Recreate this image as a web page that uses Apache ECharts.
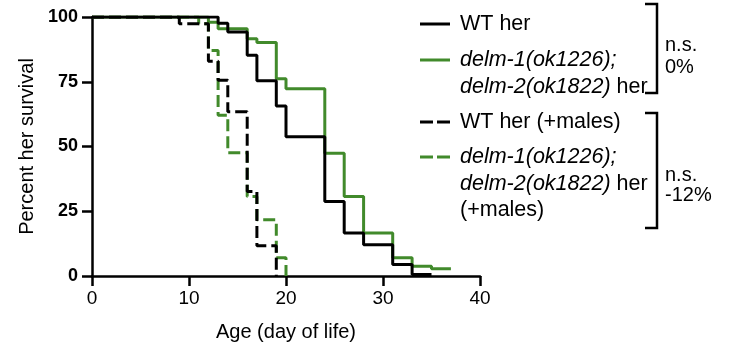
<!DOCTYPE html>
<html>
<head>
<meta charset="utf-8">
<script src="https://cdn.jsdelivr.net/npm/echarts@6/dist/echarts.min.js"></script>
<style>
  html, body { margin: 0; padding: 0; background: #fff; }
  #chart { width: 730px; height: 348px; }
</style>
</head>
<body>
<div id="chart"></div>
<script>
// survival data (day, percent alive from that day on)
const wtDays = [0, 13, 14, 16, 17, 19, 20, 24, 26, 28, 31, 33, 35]
const wtSurv = [100, 97.6, 94.2, 85.2, 75.4, 65.6, 53.8, 28.8, 16.6, 12.1, 4.4, 0.6, 0.6]

const delmDays = [0, 12, 13, 16, 17, 19, 20, 24, 26, 28, 31, 33, 35, 37]
const delmSurv = [100, 98, 95.5, 91.6, 90.2, 76.2, 72.3, 47.4, 30.7, 16.6, 7, 3.8, 2.8, 2.8]

const wtMalesDays = [0, 9, 12, 13, 14, 16, 17, 19]
const wtMalesSurv = [100, 97.4, 82.9, 75.6, 63.4, 32.6, 11.7, 0]

const delmMalesDays = [0, 11, 12, 13, 14, 16, 17, 19, 20]
const delmMalesSurv = [100, 97.4, 87.1, 62.1, 47.6, 30.7, 21.7, 7, 0]

const xTicks = [0, 10, 20, 30, 40]
const yTicks = [0, 25, 50, 75, 100]

const GREEN = '#418a2b'
const FONT = "'Liberation Sans', Arial, sans-serif"

const pairs = (xs, ys) => xs.map((x, i) => [x, ys[i]])

const chart = echarts.init(document.getElementById('chart'))

// legend + brackets drawn by hand
const legendIcon = (y, color, dashed) => ({
  type: 'line',
  shape: { x1: 420, y1: y, x2: 450, y2: y },
  style: { stroke: color, lineWidth: 3, lineDash: dashed ? [13, 4] : null }
})
const label = (y, text) => ({
  type: 'text',
  x: 460,
  y: y,
  style: {
    text: text,
    font: '21.5px ' + FONT,
    fill: '#000',
    verticalAlign: 'middle',
    rich: { i: { fontStyle: 'italic', fontSize: 21.5, fontFamily: FONT } }
  }
})
const bracket = (y1, y2) => ({
  type: 'polyline',
  shape: { points: [[645, y1], [657, y1], [657, y2], [645, y2]] },
  style: { stroke: '#000', lineWidth: 2.5, fill: null }
})
const note = (y, text) => ({
  type: 'text',
  x: 665,
  y: y,
  style: { text: text, font: '20px ' + FONT, fill: '#000', verticalAlign: 'middle' }
})

chart.setOption({
  animation: false,
  grid: { left: 92, right: 250, top: 17, bottom: 72 },
  xAxis: {
    type: 'value',
    min: 0,
    max: 40,
    interval: 10,
    name: 'Age (day of life)',
    nameLocation: 'middle',
    nameGap: 46,
    nameTextStyle: { color: '#000', fontSize: 20, fontFamily: FONT },
    axisLine: { lineStyle: { color: '#000', width: 2.5 } },
    axisTick: { length: 10, lineStyle: { color: '#000', width: 2.5 } },
    axisLabel: {
      color: '#000', fontSize: 19, fontFamily: FONT, margin: 13,
      formatter: v => xTicks.includes(v) ? String(v) : ''
    },
    splitLine: { show: false }
  },
  yAxis: {
    type: 'value',
    min: 0,
    max: 100,
    interval: 25,
    name: 'Percent her survival',
    nameLocation: 'middle',
    nameGap: 55,
    nameTextStyle: { color: '#000', fontSize: 20, fontFamily: FONT },
    axisLine: { show: true, lineStyle: { color: '#000', width: 2.5 } },
    axisTick: { show: true, length: 10, lineStyle: { color: '#000', width: 2.5 } },
    axisLabel: {
      color: '#000', fontSize: 18, fontWeight: 'bold', fontFamily: FONT, margin: 14,
      formatter: v => yTicks.includes(v) ? String(v) : ''
    },
    splitLine: { show: false }
  },
  series: [
    {
      name: 'delm-1(ok1226); delm-2(ok1822) her',
      type: 'line', step: 'end', showSymbol: false, symbol: 'none',
      data: pairs(delmDays, delmSurv),
      lineStyle: { color: GREEN, width: 3 }
    },
    {
      name: 'delm-1(ok1226); delm-2(ok1822) her (+males)',
      type: 'line', step: 'end', showSymbol: false, symbol: 'none',
      data: pairs(delmMalesDays, delmMalesSurv),
      lineStyle: { color: GREEN, width: 3, type: [12, 5] }
    },
    {
      name: 'WT her (+males)',
      type: 'line', step: 'end', showSymbol: false, symbol: 'none',
      data: pairs(wtMalesDays, wtMalesSurv),
      lineStyle: { color: '#000', width: 3, type: [12, 5] }
    },
    {
      name: 'WT her',
      type: 'line', step: 'end', showSymbol: false, symbol: 'none',
      data: pairs(wtDays, wtSurv),
      lineStyle: { color: '#000', width: 3 }
    }
  ],
  graphic: [
    legendIcon(24, '#000', false),
    label(24, 'WT her'),
    legendIcon(60, GREEN, false),
    label(60, '{i|delm-1(ok1226);}'),
    label(87, '{i|delm-2(ok1822)} her'),
    legendIcon(122, '#000', true),
    label(122, 'WT her (+males)'),
    legendIcon(157, GREEN, true),
    label(157, '{i|delm-1(ok1226);}'),
    label(184, '{i|delm-2(ok1822)} her'),
    label(210, '(+males)'),
    bracket(4, 93),
    note(45, 'n.s.'),
    note(67, '0%'),
    bracket(113, 228),
    note(175, 'n.s.'),
    note(195, '-12%')
  ]
})
</script>
</body>
</html>
